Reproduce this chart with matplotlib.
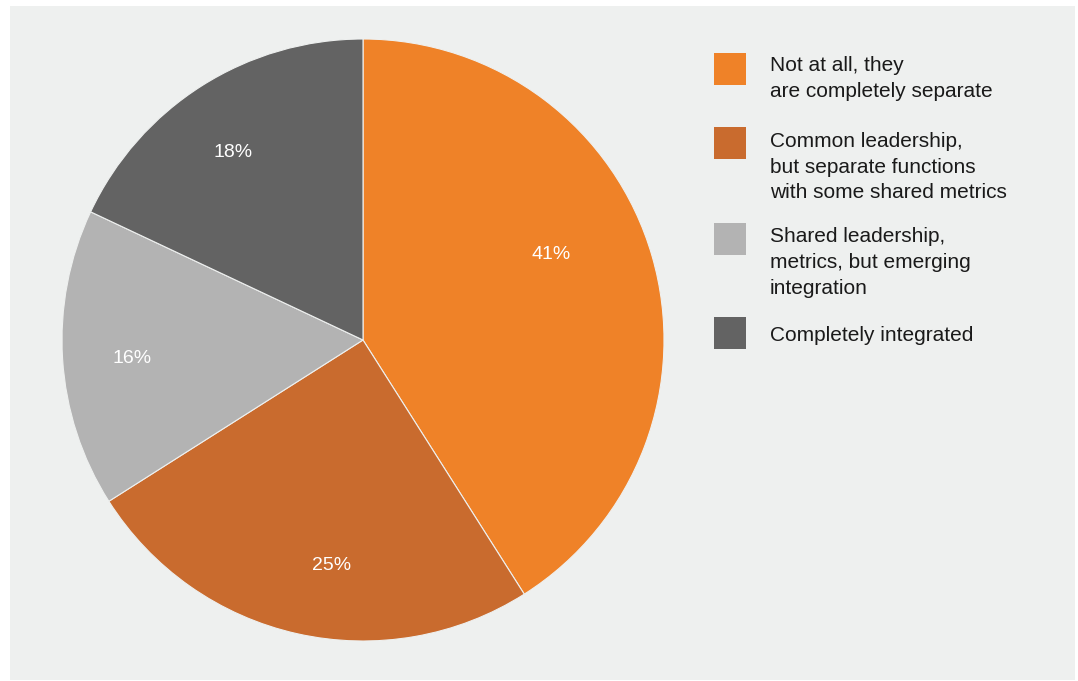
import numpy as np
import matplotlib.pyplot as plt
from matplotlib.patches import Rectangle

plt.rcParams['font.family'] = ['Liberation Sans', 'DejaVu Sans']

labels = [
    'Not at all, they\nare completely separate',
    'Common leadership,\nbut separate functions\nwith some shared metrics',
    'Shared leadership,\nmetrics, but emerging\nintegration',
    'Completely integrated',
]
shares = [41, 25, 16, 18]
colors = ['#ef8228', '#c96b2e', '#b3b3b3', '#636363']
panel_color = '#eef0ef'

W, H = 1078, 681
fig = plt.figure(figsize=(W / 100, H / 100), dpi=100)
fig.patch.set_facecolor('white')

# grey panel behind everything
fig.patches.append(Rectangle((10 / W, 1 / H), 1065 / W, 674 / H,
                             transform=fig.transFigure, facecolor=panel_color,
                             edgecolor='none', zorder=-5))

# pie: centre (363, 340) px, radius ~301 px
cx, cy, r = 363, 340, 301
ax = fig.add_axes([(cx - r) / W, (H - cy - r) / H, 2 * r / W, 2 * r / H])
ax.set_zorder(2)
ax.patch.set_visible(False)
wedges, texts, autotexts = ax.pie(
    shares, colors=colors, startangle=90, counterclock=False,
    autopct='%d%%', pctdistance=0.76,
    wedgeprops=dict(edgecolor=panel_color, linewidth=0.8),
    textprops=dict(color='white', fontsize=14),
)
ax.set_xlim(-1, 1)
ax.set_ylim(-1, 1)
ax.set_aspect('equal')

# label placement as in the original (angle in deg, radius as fraction)
label_pos = [(25, 0.69), (262, 0.75), (184, 0.77), (124.5, 0.765)]
for t, (a, rr) in zip(autotexts, label_pos):
    a = np.deg2rad(a)
    t.set_position((rr * np.cos(a), rr * np.sin(a)))
    t.set_va('center_baseline')

# legend drawn by hand: squares, text blocks near their top
tops = [53, 127, 223, 317]
text_dy = [3, 5, 4, 9]
for lab, col, top, dy in zip(labels, colors, tops, text_dy):
    fig.patches.append(Rectangle((714 / W, (H - top - 32) / H), 32 / W, 32 / H,
                                 transform=fig.transFigure, facecolor=col,
                                 edgecolor='none', zorder=1))
    fig.text(770 / W, (H - top - dy) / H, lab, ha='left', va='top',
             fontsize=15, color='#1a1a1a', linespacing=1.45)

fig.savefig('out.png', dpi=100, facecolor=fig.get_facecolor())
